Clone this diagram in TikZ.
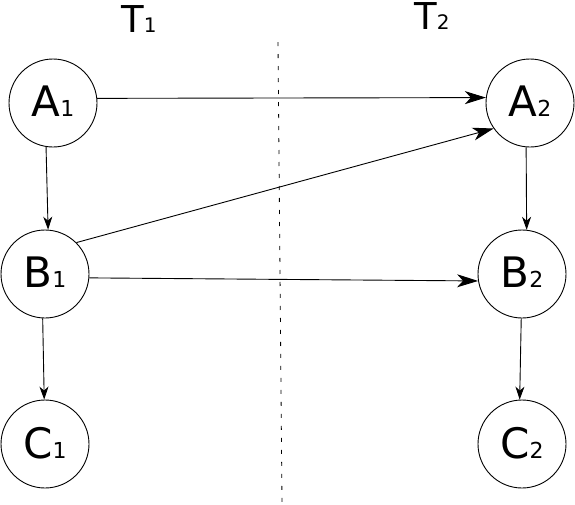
\documentclass[tikz,border=0pt]{standalone}
\usepackage{fontspec}
\setmainfont{DejaVu Sans}
\usetikzlibrary{arrows.meta}
\newcommand{\nodelab}[2]{\raisebox{3pt}{{\fontsize{42}{42}\selectfont #1}{\fontsize{22}{22}\selectfont #2}}}
\newcommand{\timelab}[2]{{\fontsize{37}{37}\selectfont #1}{\fontsize{20}{20}\selectfont #2}}
\begin{document}
\begin{tikzpicture}[x=1pt,y=-1pt,
  state/.style={circle,draw,line width=0.9pt,minimum size=88pt,inner sep=0pt},
  bigarrow/.style={line width=0.9pt,-{Stealth[length=21pt,width=13pt,inset=6pt]}},
  smallarrow/.style={line width=0.9pt,-{Stealth[length=13pt,width=9pt,inset=4pt]}},
  divider/.style={line width=0.8pt,dash pattern=on 4pt off 8pt}]
\useasboundingbox (0,0) rectangle (575,504);
\node[state] (A1) at (53,103) {\nodelab{A}{1}};
\node[state] (A2) at (530,103) {\nodelab{A}{2}};
\node[state] (B1) at (45,274) {\nodelab{B}{1}};
\node[state] (B2) at (522,274) {\nodelab{B}{2}};
\node[state] (C1) at (45,444) {\nodelab{C}{1}};
\node[state] (C2) at (522,444) {\nodelab{C}{2}};
\node (T1) at (139,19) {\timelab{T}{1}};
\node (T2) at (432,16) {\timelab{T}{2}};
\coordinate (dtop) at (278,42);
\coordinate (dbot) at (282,504);
\draw[divider] (dtop) -- (dbot);
\draw[bigarrow] (A1.6.5) -- (A2.173.5);
\draw[bigarrow] (B1.45) -- (A2.215);
\draw[bigarrow] (B1.-5) -- (B2.189);
\draw[smallarrow] (A1.-99) -- (B1.86);
\draw[smallarrow] (A2.-95) -- (B2.84);
\draw[smallarrow] (B1.-93) -- (C1.91);
\draw[smallarrow] (B2.-91) -- (C2.93);
\end{tikzpicture}
\end{document}
